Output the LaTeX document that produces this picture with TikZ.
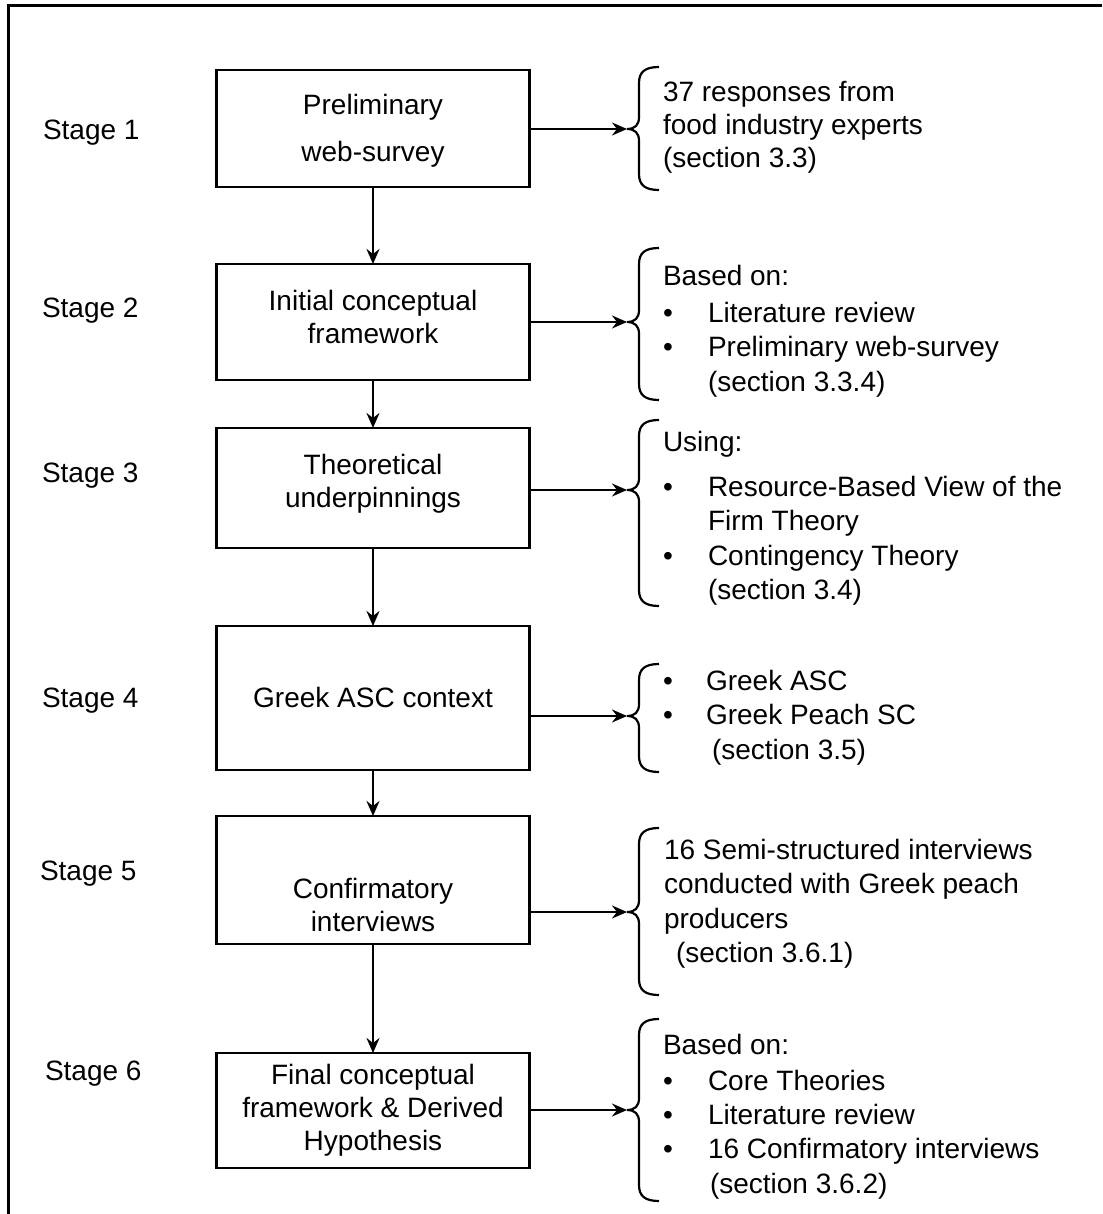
\documentclass[tikz,border=0pt]{standalone}
\usepackage{fontspec}
\setmainfont{Liberation Sans}
\usetikzlibrary{arrows.meta}
\begin{document}
\begin{tikzpicture}[x=1pt,y=-1pt,
  every node/.style={inner sep=0pt,outer sep=0pt,font=\fontsize{28}{33}\selectfont},
  box/.style={draw,line width=2.4pt,minimum width=313pt},
  lbl/.style={anchor=base west},
  ctr/.style={align=center,anchor=center},
  bul/.style={anchor=base},
  arr/.style={line width=2.4pt,-{Stealth[length=15pt,width=13pt,inset=5pt]}},
  brace/.style={line width=2.2pt}]
\useasboundingbox (0,0) rectangle (1102,1214);
% open frame: top and left edges
\draw[line width=3pt] (8,1214) -- (8,6) -- (1102,6);

% stage labels
\node[lbl] (s1) at (43,140) {Stage 1};
\node[lbl] (s2) at (42,317) {Stage 2};
\node[lbl] (s3) at (42,482) {Stage 3};
\node[lbl] (s4) at (42,707) {Stage 4};
\node[lbl] (s5) at (40,880) {Stage 5};
\node[lbl] (s6) at (45,1080) {Stage 6};

% process boxes
\node[box,minimum height=117pt] (b1) at (373,128.5) {};
\node[box,minimum height=116pt] (b2) at (373,322) {};
\node[box,minimum height=120pt] (b3) at (373,488) {};
\node[box,minimum height=144pt] (b4) at (373,698) {};
\node[box,minimum height=128pt] (b5) at (373,880) {};
\node[box,minimum height=115pt] (b6) at (373,1110.5) {};

% box captions
\node[ctr] (t1) at (373,131) {Preliminary\\[14pt]web-survey};
\node[ctr] (t2) at (373,317) {Initial conceptual\\framework};
\node[ctr] (t3) at (373,484) {Theoretical\\underpinnings};
\node[ctr] (t4) at (373,697) {Greek ASC context};
\node[ctr] (t5) at (373,905) {Confirmatory\\interviews};
\node[ctr] (t6) at (373,1110) {Final conceptual\\framework \& Derived\\Hypothesis};

% vertical flow
\draw[arr] (b1.south) -- (b2.north);
\draw[arr] (b2.south) -- (b3.north);
\draw[arr] (b3.south) -- (b4.north);
\draw[arr] (b4.south) -- (b5.north);
\draw[arr] (b5.south) -- (b6.north);

% curly braces: name, top, tip, bottom
\newcommand{\notebrace}[4]{%
  \coordinate (#1) at (627,#3);
  \draw[brace] (659,#2) .. controls (645,#2) and (639,#2+5) .. (639,#2+16)
    -- (639,#3-12) .. controls (639,#3-4) and (635,#3) .. (627,#3)
    .. controls (635,#3) and (639,#3+4) .. (639,#3+12)
    -- (639,#4-16) .. controls (639,#4-5) and (645,#4) .. (659,#4);}
\notebrace{k1}{67}{129}{190}
\notebrace{k2}{248}{322}{400}
\notebrace{k3}{420}{490}{606}
\notebrace{k4}{664}{716}{772}
\notebrace{k5}{828}{912}{995}
\notebrace{k6}{1019}{1110}{1201}

% side arrows into the braces
\draw[arr] (b1.east |- k1) -- (k1);
\draw[arr] (b2.east |- k2) -- (k2);
\draw[arr] (b3.east |- k3) -- (k3);
\draw[arr] (b4.east |- k4) -- (k4);
\draw[arr] (b5.east |- k5) -- (k5);
\draw[arr] (b6.east |- k6) -- (k6);

% notes, stage 1
\node[lbl] (n11) at (663,102) {37 responses from};
\node[lbl] (n12) at (663,135) {food industry experts};
\node[lbl] (n13) at (663,168) {(section 3.3)};
% stage 2
\node[lbl] (n21) at (663,286) {Based on:};
\node[bul] (p21) at (668,322) {•};
\node[lbl] (n22) at (708,322) {Literature review};
\node[bul] (p22) at (668,356) {•};
\node[lbl] (n23) at (708,356) {Preliminary web-survey};
\node[lbl] (n24) at (708,391) {(section 3.3.4)};
% stage 3
\node[lbl] (n31) at (663,451) {Using:};
\node[bul] (p31) at (668,496) {•};
\node[lbl] (n32) at (708,496) {Resource-Based View of the};
\node[lbl] (n33) at (708,530) {Firm Theory};
\node[bul] (p32) at (668,565) {•};
\node[lbl] (n34) at (708,565) {Contingency Theory};
\node[lbl] (n35) at (708,599) {(section 3.4)};
% stage 4
\node[bul] (p41) at (668,690) {•};
\node[lbl] (n41) at (706,690) {Greek ASC};
\node[bul] (p42) at (668,724) {•};
\node[lbl] (n42) at (706,724) {Greek Peach SC};
\node[lbl] (n43) at (712,759) {(section 3.5)};
% stage 5
\node[lbl] (n51) at (664,859) {16 Semi-structured interviews};
\node[lbl] (n52) at (664,893) {conducted with Greek peach};
\node[lbl] (n53) at (664,928) {producers};
\node[lbl] (n54) at (676,962) {(section 3.6.1)};
% stage 6
\node[lbl] (n61) at (663,1054) {Based on:};
\node[bul] (p61) at (668,1090) {•};
\node[lbl] (n62) at (708,1090) {Core Theories};
\node[bul] (p62) at (668,1124) {•};
\node[lbl] (n63) at (708,1124) {Literature review};
\node[bul] (p63) at (668,1158) {•};
\node[lbl] (n64) at (708,1158) {16 Confirmatory interviews};
\node[lbl] (n65) at (710,1193) {(section 3.6.2)};
\end{tikzpicture}
\end{document}
